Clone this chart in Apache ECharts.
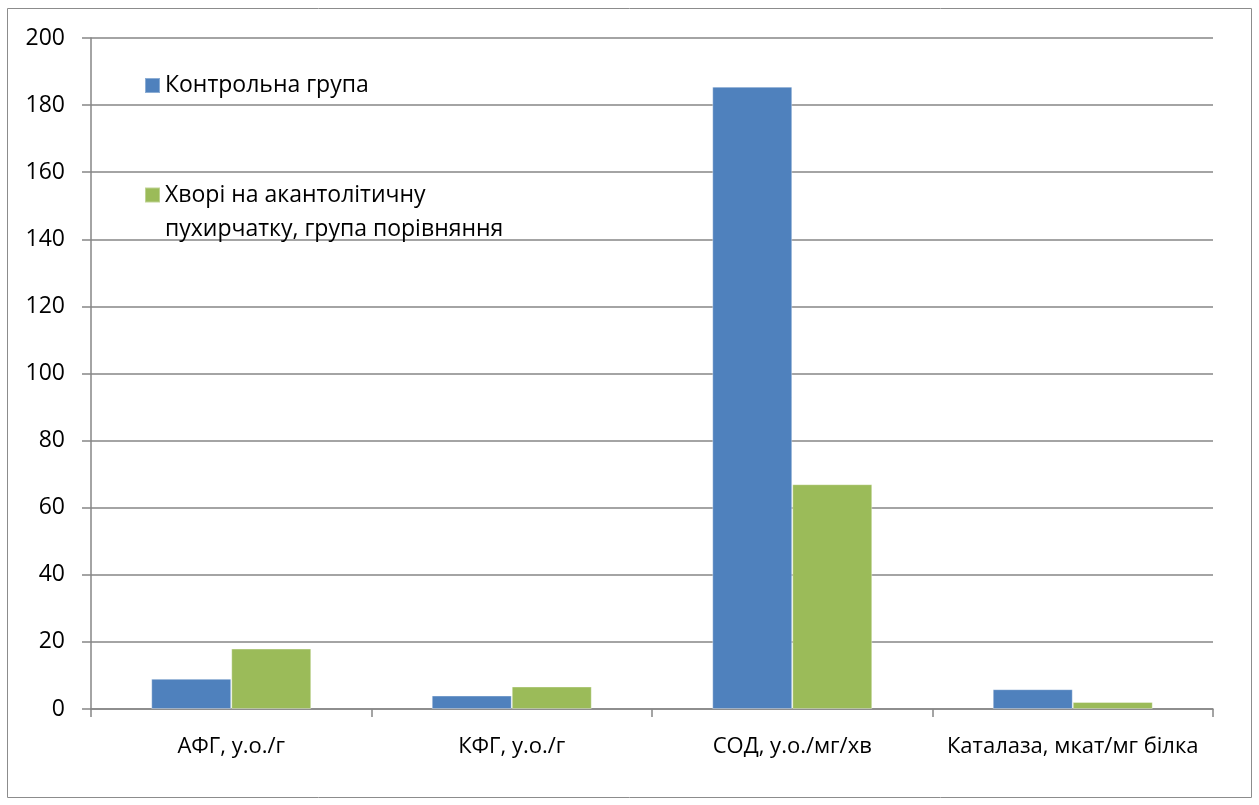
<!DOCTYPE html>
<html>
<head>
<meta charset="utf-8">
<script src="https://cdn.jsdelivr.net/npm/echarts@6/dist/echarts.min.js"></script>
<style>
  html, body { margin: 0; padding: 0; background: #fff; }
  #main { width: 1259px; height: 805px; }
</style>
</head>
<body>
<div id="main"></div>
<script>
// дані з діаграми
var categories = ['АФГ, у.о./г', 'КФГ, у.о./г', 'СОД, у.о./мг/хв', 'Каталаза, мкат/мг білка'];
var controlName = 'Контрольна група';
var patientName = 'Хворі на акантолітичну пухирчатку, група порівняння';
var controlValues = [9, 4, 185.5, 5.9];
var patientValues = [18, 6.7, 67, 2.1];
var yTicks = { min: 0, max: 200, step: 20 };

var fontFamily = '"Open Sans", "Noto Sans", sans-serif';
var axisGray = '#868686';

var myChart = echarts.init(document.getElementById('main'));

var option = {
    animation: false,
    textStyle: { fontFamily: fontFamily, color: '#000' },
    color: ['#4F81BD', '#9BBB59'],
    graphic: [{
        type: 'rect',
        shape: { x: 7.5, y: 8.5, width: 1244, height: 789 },
        style: { fill: 'none', stroke: '#8c8c8c', lineWidth: 1 },
        silent: true
    }],
    grid: {
        left: 91,
        right: 46,
        top: 38,
        bottom: 96
    },
    legend: [{
        data: [controlName],
        orient: 'vertical',
        left: 144,
        top: 74,
        padding: 0,
        itemWidth: 15,
        itemHeight: 15,
        itemGap: 8,
        icon: 'rect',
        textStyle: { fontSize: 23, color: '#000', fontFamily: fontFamily }
    }, {
        data: [patientName],
        orient: 'vertical',
        left: 144,
        top: 144,
        padding: 0,
        itemWidth: 15,
        itemHeight: 15,
        itemGap: 8,
        icon: 'rect',
        formatter: function () {
            // порожній перший рядок, щоб квадратик стояв біля першого рядка
            return '\nХворі на акантолітичну\nпухирчатку, група порівняння';
        },
        textStyle: { fontSize: 23, lineHeight: 34, color: '#000', fontFamily: fontFamily }
    }],
    xAxis: {
        type: 'category',
        data: categories,
        axisLine: { lineStyle: { color: axisGray, width: 1.5 } },
        axisTick: { show: true, interval: 0, length: 8, lineStyle: { color: axisGray, width: 1.5 } },
        axisLabel: { interval: 0, margin: 27, fontSize: 22, color: '#000', fontFamily: fontFamily }
    },
    yAxis: {
        type: 'value',
        min: yTicks.min,
        max: yTicks.max,
        interval: yTicks.step,
        axisLine: { show: true, lineStyle: { color: axisGray, width: 1.5 } },
        axisTick: { show: true, length: 9, lineStyle: { color: axisGray, width: 1.5 } },
        splitLine: { lineStyle: { color: axisGray, width: 1.5 } },
        axisLabel: { margin: 26, fontSize: 23, color: '#000', fontFamily: fontFamily }
    },
    series: [{
        name: controlName,
        type: 'bar',
        barWidth: 80,
        barGap: '0%',
        itemStyle: { borderColor: 'rgba(255,255,255,0.35)', borderWidth: 1 },
        data: controlValues
    }, {
        name: patientName,
        type: 'bar',
        barWidth: 80,
        barGap: '0%',
        itemStyle: { borderColor: 'rgba(255,255,255,0.35)', borderWidth: 1 },
        data: patientValues
    }]
};

myChart.setOption(option);
</script>
</body>
</html>
